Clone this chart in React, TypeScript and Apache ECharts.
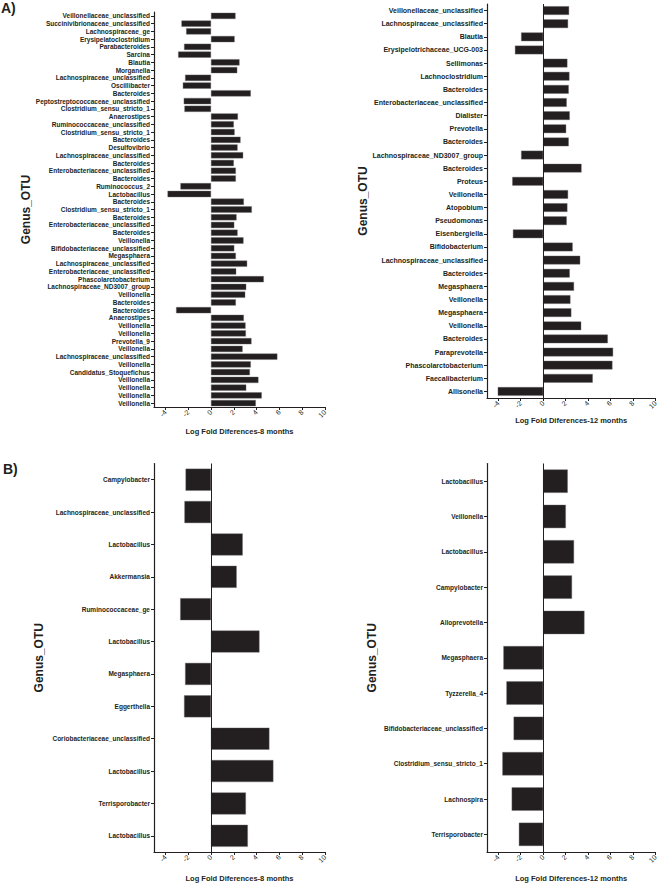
import React, { useEffect, useRef } from "react";
import * as echarts from "echarts";

const xTickValues = [-4, -2, 0, 2, 4, 6, 8, 10];

const a8Categories = [
  "Veillonellaceae_unclassified", "Succinivibrionaceae_unclassified", "Lachnospiraceae_ge",
  "Erysipelatoclostridium", "Parabacteroides", "Sarcina", "Blautia", "Morganella",
  "Lachnospiraceae_unclassified", "Oscillibacter", "Bacteroides",
  "Peptostreptococcaceae_unclassified", "Clostridium_sensu_stricto_1", "Anaerostipes",
  "Ruminococcaceae_unclassified", "Clostridium_sensu_stricto_1", "Bacteroides", "Desulfovibrio",
  "Lachnospiraceae_unclassified", "Bacteroides", "Enterobacteriaceae_unclassified", "Bacteroides",
  "Ruminococcus_2", "Lactobacillus", "Bacteroides", "Clostridium_sensu_stricto_1", "Bacteroides",
  "Enterobacteriaceae_unclassified", "Bacteroides", "Veillonella", "Bifidobacteriaceae_unclassified",
  "Megasphaera", "Lachnospiraceae_unclassified", "Enterobacteriaceae_unclassified",
  "Phascolarctobacterium", "Lachnospiraceae_ND3007_group", "Veillonella", "Bacteroides",
  "Bacteroides", "Anaerostipes", "Veillonella", "Veillonella", "Prevotella_9", "Veillonella",
  "Lachnospiraceae_unclassified", "Veillonella", "Candidatus_Stoquefichus", "Veillonella",
  "Veillonella", "Veillonella", "Veillonella",
];
const a8Values = [
  2.15, -2.59, -2.18, 2.07, -2.36, -2.88, 2.5, 2.3, -2.27, -2.47, 3.49,
  -2.39, -2.33, 2.36, 2.0, 2.07, 2.59, 2.33, 2.82, 2.0, 2.18, 2.18,
  -2.68, -3.81, 2.88, 3.58, 2.24, 2.04, 2.33, 2.85, 2.04, 2.18, 3.17, 2.21,
  4.63, 3.09, 3.0, 2.18, -3.06, 2.88, 3.03, 3.06, 3.55, 2.77, 5.82, 3.49,
  3.41, 4.16, 3.09, 4.45, 3.93,
];

const a12Categories = [
  "Veillonellaceae_unclassified", "Lachnospiraceae_unclassified", "Blautia",
  "Erysipelotrichaceae_UCG-003", "Sellimonas", "Lachnoclostridium", "Bacteroides",
  "Enterobacteriaceae_unclassified", "Dialister", "Prevotella", "Bacteroides",
  "Lachnospiraceae_ND3007_group", "Bacteroides", "Proteus", "Veillonella", "Atopobium",
  "Pseudomonas", "Eisenbergiella", "Bifidobacterium", "Lachnospiraceae_unclassified",
  "Bacteroides", "Megasphaera", "Veillonella", "Megasphaera", "Veillonella", "Bacteroides",
  "Paraprevotella", "Phascolarctobacterium", "Faecalibacterium", "Allisonella",
];
const a12Values = [
  2.31, 2.22, -1.96, -2.51, 2.16, 2.34, 2.28, 2.1, 2.37, 2.05, 2.28, -1.96, 3.42,
  -2.75, 2.22, 2.16, 2.1, -2.69, 2.63, 3.3, 2.37, 2.75, 2.43, 2.51, 3.39, 5.76,
  6.23, 6.17, 4.42, -4.04,
];

const b8Categories = [
  "Campylobacter", "Lachnospiraceae_unclassified", "Lactobacillus", "Akkermansia",
  "Ruminococcaceae_ge", "Lactobacillus", "Megasphaera", "Eggerthella",
  "Coriobacteriaceae_unclassified", "Lactobacillus", "Terrisporobacter", "Lactobacillus",
];
const b8Values = [-2.23, -2.33, 2.78, 2.25, -2.7, 4.25, -2.27, -2.36, 5.12, 5.47, 3.06, 3.23];

const b12Categories = [
  "Lactobacillus", "Veillonella", "Lactobacillus", "Campylobacter", "Alloprevotella",
  "Megasphaera", "Tyzzerella_4", "Bifidobacteriaceae_unclassified",
  "Clostridium_sensu_stricto_1", "Lachnospira", "Terrisporobacter",
];
const b12Values = [2.19, 2.02, 2.75, 2.57, 3.68, -3.54, -3.27, -2.63, -3.63, -2.8, -2.16];

const xName8 = "Log Fold Diferences-8 months";
const xName12 = "Log Fold Diferences-12 months";
const yName = "Genus_OTU";

const FONT = "'Liberation Sans', Arial, Helvetica, sans-serif";
const INK = "#231f20";

type Panel = {
  cats: string[];
  vals: number[];
  grid: { left: number; top: number; width: number; height: number };
  xName: string;
  xNameGap: number;
  yNameGap: number;
  labelSize: number;
  barWidth: string;
  zeroLine: boolean;
};

export default function App() {
  const ref = useRef<HTMLDivElement>(null);
  useEffect(() => {
    document.body.style.margin = "0";
    if (!ref.current) return;
    const chart = echarts.init(ref.current, undefined, { renderer: "svg" });

    const panels: Panel[] = [
      {
        cats: a8Categories, vals: a8Values,
        grid: { left: 154, top: 12, width: 171, height: 395 },
        xName: xName8, xNameGap: 20, yNameGap: 119, labelSize: 6.5, barWidth: "80%", zeroLine: false,
      },
      {
        cats: a12Categories, vals: a12Values,
        grid: { left: 487, top: 4, width: 171, height: 394 },
        xName: xName12, xNameGap: 18, yNameGap: 113, labelSize: 7, barWidth: "66%", zeroLine: true,
      },
      {
        cats: b8Categories, vals: b8Values,
        grid: { left: 154, top: 463.5, width: 171, height: 392.5 },
        xName: xName8, xNameGap: 22, yNameGap: 109, labelSize: 6.5, barWidth: "68%", zeroLine: true,
      },
      {
        cats: b12Categories, vals: b12Values,
        grid: { left: 487, top: 463.5, width: 171, height: 392.5 },
        xName: xName12, xNameGap: 22, yNameGap: 109, labelSize: 6.5, barWidth: "66%", zeroLine: true,
      },
    ];

    const option: any = {
      animation: false,
      backgroundColor: "#ffffff",
      textStyle: { fontFamily: FONT },
      grid: panels.map((p) => ({ ...p.grid, containLabel: false })),
      xAxis: panels.map((p, i) => ({
        type: "value",
        gridIndex: i,
        min: -5,
        max: 10,
        name: p.xName,
        nameLocation: "middle",
        nameGap: p.xNameGap,
        nameTextStyle: { fontFamily: FONT, fontWeight: "bold", fontSize: 7.5, color: INK },
        axisLine: { show: true, onZero: false, lineStyle: { color: INK, width: 1.2 } },
        axisTick: { show: true, length: 3, customValues: xTickValues, lineStyle: { color: INK, width: 1 } },
        axisLabel: {
          customValues: xTickValues,
          rotate: 45,
          fontSize: 7,
          fontFamily: FONT,
          color: INK,
          margin: 4,
        },
        splitLine: { show: false },
      })),
      yAxis: panels.map((p, i) => ({
        type: "category",
        gridIndex: i,
        data: p.cats,
        inverse: true,
        name: yName,
        nameLocation: "middle",
        nameGap: p.yNameGap,
        nameRotate: 90,
        nameTextStyle: { fontFamily: FONT, fontWeight: "bold", fontSize: 12, color: INK },
        axisLine: { show: true, onZero: false, lineStyle: { color: INK, width: 1.2 } },
        axisTick: { show: true, alignWithLabel: true, length: 3, lineStyle: { color: INK, width: 1 } },
        axisLabel: {
          interval: 0,
          fontSize: p.labelSize,
          fontWeight: "bold",
          fontFamily: FONT,
          color: INK,
          margin: 4,
        },
        splitLine: { show: false },
      })),
      series: panels.map((p, i) => ({
        type: "bar",
        xAxisIndex: i,
        yAxisIndex: i,
        data: p.vals,
        barWidth: p.barWidth,
        itemStyle: { color: INK, borderColor: "#6d6b6c", borderWidth: 0.4 },
        markLine: p.zeroLine
          ? {
              silent: true,
              symbol: ["none", "none"],
              label: { show: false },
              lineStyle: { color: INK, width: 1, type: "solid" },
              data: [{ xAxis: 0 }],
            }
          : undefined,
      })),
      graphic: [
        {
          type: "text",
          left: 1,
          top: 1,
          style: { text: "A)", fontFamily: FONT, fontWeight: "bold", fontSize: 14, fill: INK },
        },
        {
          type: "text",
          left: 3,
          top: 462,
          style: { text: "B)", fontFamily: FONT, fontWeight: "bold", fontSize: 14, fill: INK },
        },
      ],
    };
    chart.setOption(option);
    return () => chart.dispose();
  }, []);
  return <div ref={ref} style={{ width: 660, height: 883 }} />;
}
